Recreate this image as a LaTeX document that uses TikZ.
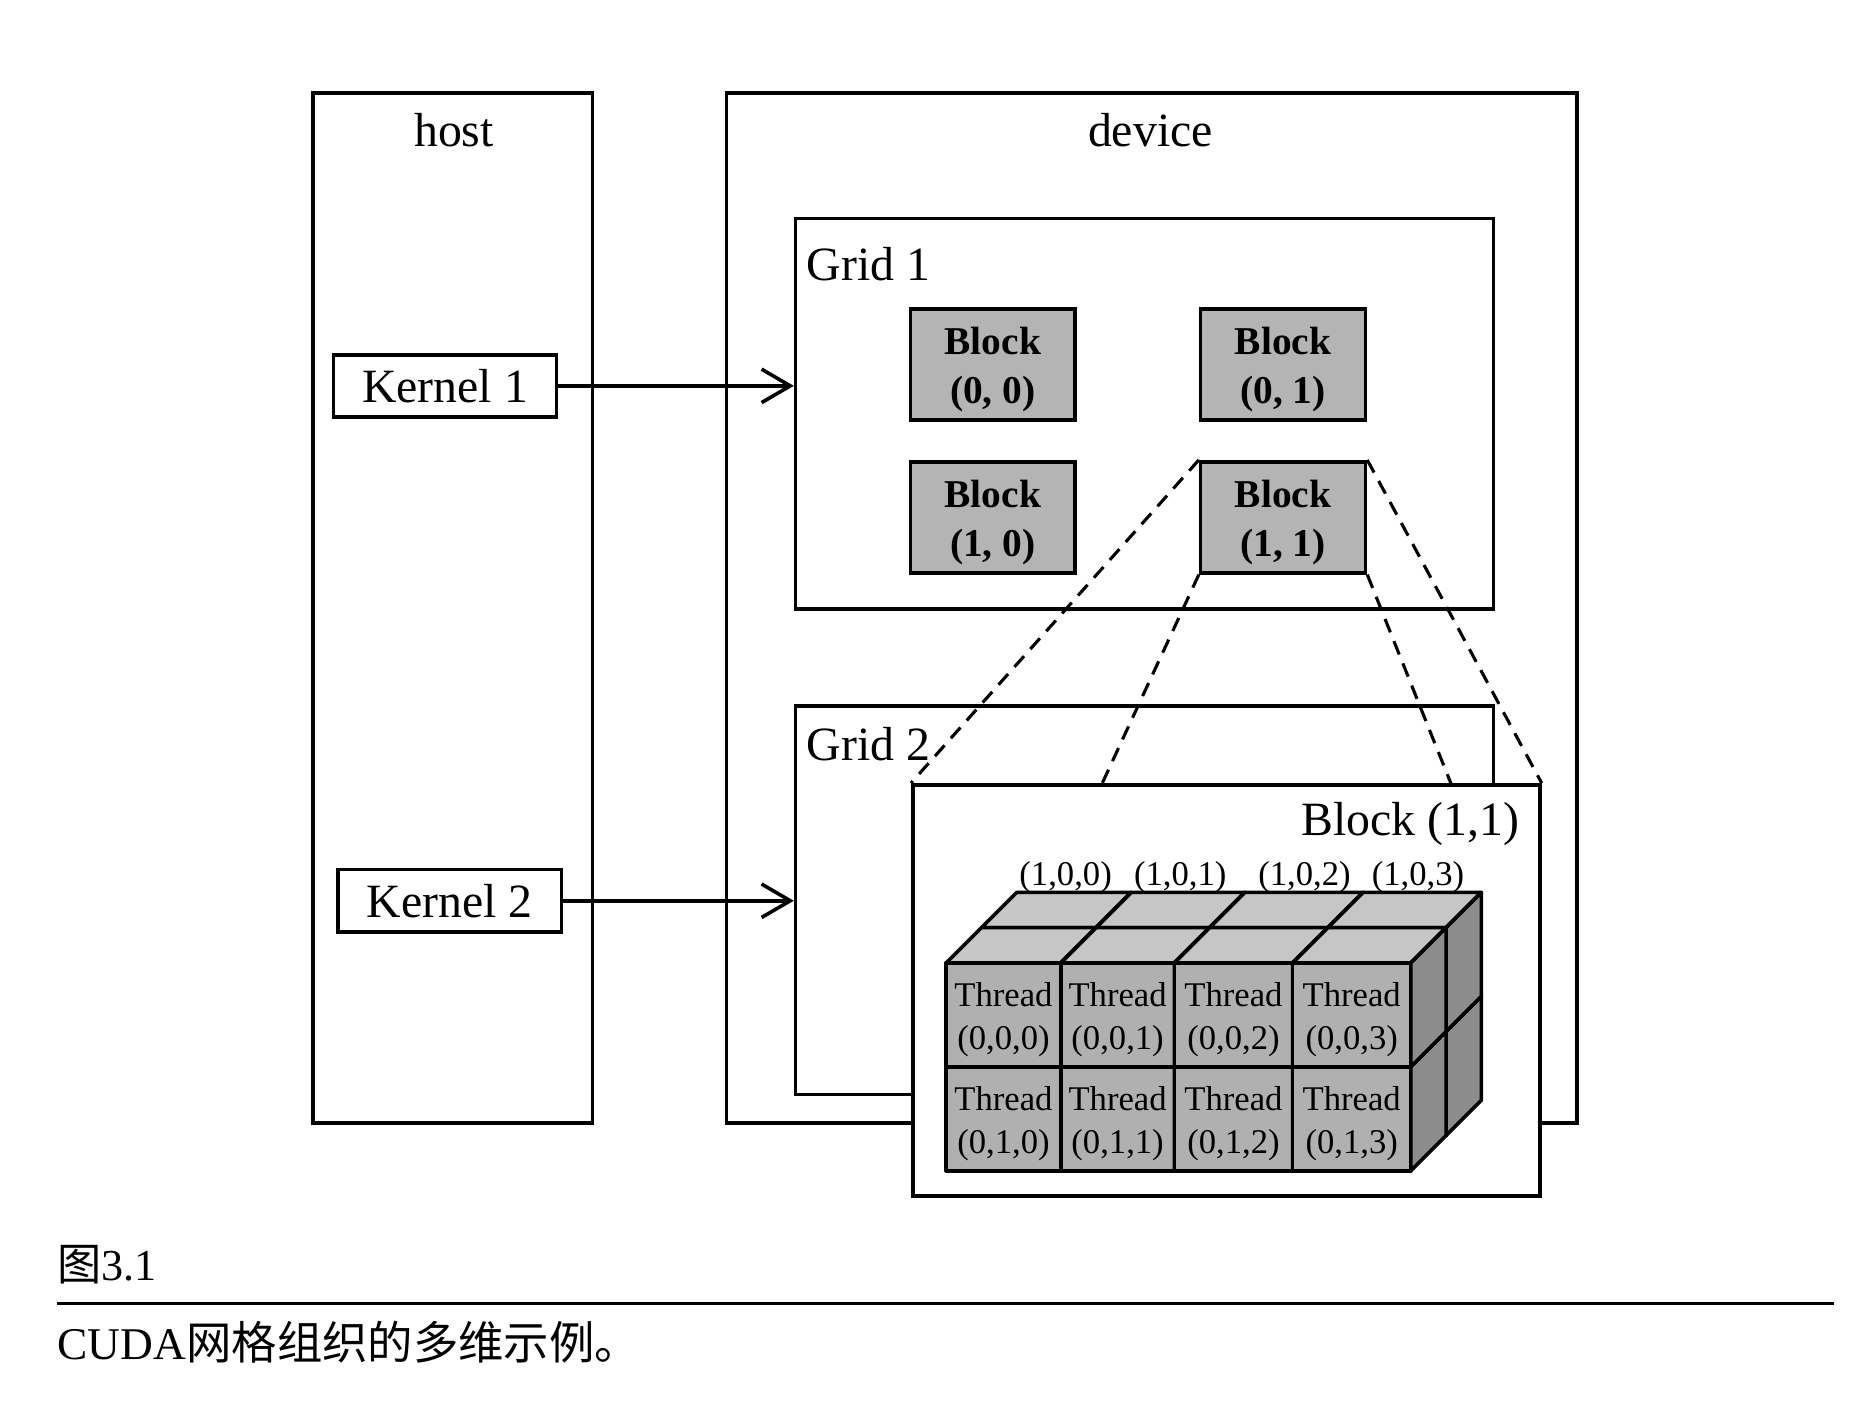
\documentclass[tikz,border=0pt]{standalone}
\usepackage{fontspec}
\setmainfont{Liberation Serif}
\newfontfamily\cjk{Noto Sans CJK SC}
\usetikzlibrary{arrows.meta}
\definecolor{blkgray}{RGB}{180,180,180}
\definecolor{frontgray}{RGB}{176,176,176}
\definecolor{topgray}{RGB}{198,198,198}
\definecolor{sidegray}{RGB}{140,140,140}
\tikzset{
  box/.style={draw, line width=3pt, inner sep=0pt},
  lbl/.style={font=\fontsize{40}{48}\selectfont, inner sep=0pt},
  blk/.style={draw, line width=3pt, fill=blkgray, minimum width=138pt, minimum height=93pt, inner sep=0pt},
  blktext/.style={align=center, inner sep=0pt, font=\bfseries\fontsize{33}{41}\selectfont},
  kern/.style={draw, line width=3pt, minimum width=187pt, minimum height=52pt, inner sep=0pt,
               font=\fontsize{40}{48}\selectfont},
  thr/.style={font=\fontsize{29}{36}\selectfont, align=center, inner sep=0pt},
  idx/.style={font=\fontsize{29}{36}\selectfont, inner sep=0pt, anchor=base},
  face/.style={draw, line width=3pt, line join=round},
  arr/.style={line width=3pt, -{Straight Barb[length=24pt,width=28pt,line width=3pt]}},
  dsh/.style={line width=2.6pt, dash pattern=on 12pt off 8pt}
}
\begin{document}
\begin{tikzpicture}[x=1pt,y=-1pt]
\useasboundingbox (0,0) rectangle (1567,1178);
% containers
\node[box, minimum width=234pt, minimum height=862pt] (host) at (379,509) {};
\node[lbl, anchor=base] (hostlbl) at (380,123) {host};
\node[box, minimum width=712pt, minimum height=862pt] (device) at (964,509) {};
\node[lbl, anchor=base] (devlbl) at (963,123) {device};
% kernels
\node[kern] (k1) at (372.5,323) {Kernel 1};
\node[kern] (k2) at (376.5,754) {Kernel 2};
% grid 1
\node[box, minimum width=584pt, minimum height=327pt] (g1) at (958,346.5) {};
\node[lbl, anchor=base west] (g1lbl) at (675,235) {Grid 1};
\node[blk] (b00) at (831,305) {};
\node[blk] (b01) at (1074,305) {};
\node[blk] (b10) at (831,433) {};
\node[blk] (b11) at (1074,433) {};
\node[blktext] (b00t) at (831,309.5) {Block\\(0, 0)};
\node[blktext] (b01t) at (1074,309.5) {Block\\(0, 1)};
\node[blktext] (b10t) at (831,437.5) {Block\\(1, 0)};
\node[blktext] (b11t) at (1074,437.5) {Block\\(1, 1)};
% grid 2
\node[box, minimum width=584pt, minimum height=325pt] (g2) at (958,753.5) {};
\node[lbl, anchor=base west] (g2lbl) at (675,637) {Grid 2};
% arrows
\draw[arr] (k1.east) -- (k1.east -| g1.west);
\draw[arr] (k2.east) -- (k2.east -| g2.west);
% expanded block
\coordinate (m1) at (922,657);
\coordinate (m2) at (1215,657);
\node[box, fill=white, minimum width=525pt, minimum height=344pt] (big) at (1026.5,829) {};
\draw[dsh] (b11.north west) -- (big.north west);
\draw[dsh] (b11.south west) -- (m1);
\draw[dsh] (b11.south east) -- (m2);
\draw[dsh] (b11.north east) -- (big.north east);
\node[lbl, anchor=base east] (biglbl) at (1272,699) {Block (1,1)};
% cube of threads
\foreach \k in {1,0} {
  \begin{scope}[shift={(29.5*\k,-29.5*\k)}]
    \foreach \ya/\yb in {893/980, 806/893} {
      \foreach \xa/\xb in {792/888, 888/983, 983/1082, 1082/1181} {
        \filldraw[face, fill=frontgray] (\xa,\ya) rectangle (\xb,\yb);
        \filldraw[face, fill=topgray] (\xa,\ya) -- (\xa+29.5,\ya-29.5) -- (\xb+29.5,\ya-29.5) -- (\xb,\ya) -- cycle;
        \filldraw[face, fill=sidegray] (\xb,\ya) -- (\xb+29.5,\ya-29.5) -- (\xb+29.5,\yb-29.5) -- (\xb,\yb) -- cycle;
      }
    }
  \end{scope}
}
\node[thr] (t000) at (840,853.5) {Thread\\(0,0,0)};
\node[thr] (t001) at (935.5,853.5) {Thread\\(0,0,1)};
\node[thr] (t002) at (1032.5,853.5) {Thread\\(0,0,2)};
\node[thr] (t003) at (1131.5,853.5) {Thread\\(0,0,3)};
\node[thr] (t010) at (840,940.5) {Thread\\(0,1,0)};
\node[thr] (t011) at (935.5,940.5) {Thread\\(0,1,1)};
\node[thr] (t012) at (1032.5,940.5) {Thread\\(0,1,2)};
\node[thr] (t013) at (1131.5,940.5) {Thread\\(0,1,3)};
\node[idx] (i100) at (892,741) {(1,0,0)};
\node[idx] (i101) at (988,741) {(1,0,1)};
\node[idx] (i102) at (1092,741) {(1,0,2)};
\node[idx] (i103) at (1187,741) {(1,0,3)};
% caption
\node[anchor=base west, inner sep=0pt, font=\fontsize{37}{44}\selectfont] (fig) at (48,1072) {{\cjk 图}3.1};
\coordinate (rl) at (48,1091);
\coordinate (rr) at (1535,1091);
\draw[line width=2pt] (rl) -- (rr);
\node[anchor=base west, inner sep=0pt, font=\fontsize{38}{44}\selectfont] (cap) at (48,1138) {CUDA{\cjk 网格组织的多维示例。}};
\end{tikzpicture}
\end{document}
